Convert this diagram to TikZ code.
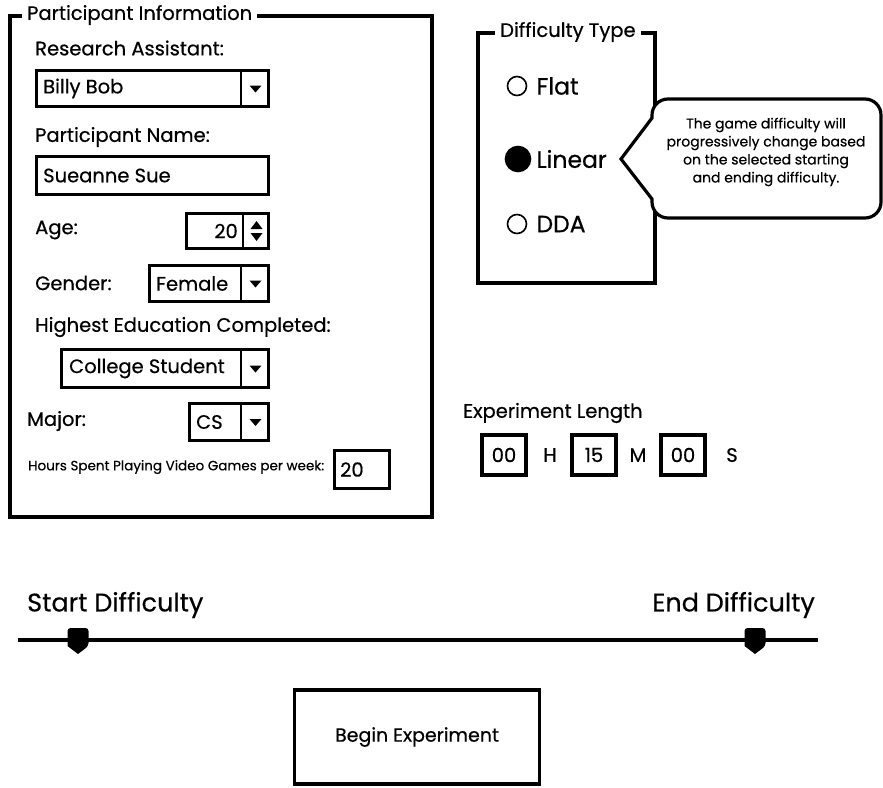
\documentclass[tikz,border=0pt]{standalone}
\usepackage{fontspec}
\setmainfont{Poppins}[FakeBold=0.5]
\usepackage{tikz}
\usetikzlibrary{positioning}
\tikzstyle{frame} = [draw=black, line width=3.2pt]
\tikzstyle{field} = [
	draw=black,
	line width=3pt,
	anchor=north west,
	inner sep=0pt
]
\tikzstyle{lbl} = [anchor=west, inner sep=0pt, font=\fontsize{19.5}{22}\selectfont]
\tikzstyle{val} = [anchor=west, inner sep=0pt, font=\fontsize{19.5}{22}\selectfont]
\tikzstyle{legend} = [anchor=west, fill=white, inner xsep=5pt, inner ysep=1pt, font=\fontsize{19.5}{22}\selectfont]
\tikzstyle{radio} = [circle, draw=black, line width=1.6pt, minimum size=19pt, inner sep=0pt]
\tikzstyle{choice} = [inner sep=0pt, font=\fontsize{23.5}{26}\selectfont]
\tikzstyle{timebox} = [draw=black, line width=3.2pt, minimum width=44pt, minimum height=40pt, inner sep=0pt, font=\fontsize{19.5}{22}\selectfont]
\tikzstyle{unit} = [inner sep=0pt, font=\fontsize{19.5}{22}\selectfont]
\tikzstyle{big} = [inner sep=0pt, font=\fontsize{25.5}{28}\selectfont]
\tikzstyle{knob} = [fill=black, rounded corners=3pt]

\begin{document}
\begin{tikzpicture}[x=1pt, y=-1pt]
    \useasboundingbox (0,0) rectangle (883,787);
    \draw[frame] (10,16) rectangle (432,517);
    \node[legend] (pinfo) at (22,15) {Participant Information};
    \node[lbl] (ralbl) at (35,48) {Research Assistant:};
    \node[field, minimum width=232pt, minimum height=36pt] (ra) at (35,69) {};
    \node[val] at ([xshift=8pt]ra.west) {Billy Bob};
    \node[lbl] (pnamelbl) at (35,137) {Participant Name:};
    \node[field, minimum width=232pt, minimum height=38pt] (pname) at (35,155) {};
    \node[val] at ([xshift=8pt]pname.west) {Sueanne Sue};
    \node[lbl] (agelbl) at (35,230) {Age:};
    \node[field, minimum width=82pt, minimum height=35pt] (age) at (185,212) {};
    \node[val, anchor=east] at ([xshift=-32pt]age.east) {20};
    \draw[line width=2pt] ([xshift=-27pt]age.north east) -- ([xshift=-27pt]age.south east);
    \fill ([xshift=-13.5pt]age.east) ++(-6,-2) -- ++(12,0) -- ++(-6,-8) -- cycle;
    \fill ([xshift=-13.5pt]age.east) ++(-6,2) -- ++(12,0) -- ++(-6,8) -- cycle;
    \node[lbl] (genderlbl) at (35,283) {Gender:};
    \node[field, minimum width=119pt, minimum height=36pt] (gender) at (148,264) {};
    \node[val] at ([xshift=8pt]gender.west) {Female};
    \node[lbl] (edulbl) at (35,327) {Highest Education Completed:};
    \node[field, minimum width=207pt, minimum height=38pt] (edu) at (60,348) {};
    \node[val] at ([xshift=9pt]edu.west) {College Student};
    \node[lbl] (majorlbl) at (27,421) {Major:};
    \node[field, minimum width=79pt, minimum height=37pt] (major) at (188,402) {};
    \node[val] at ([xshift=8pt]major.west) {CS};
    \node[lbl, font=\fontsize{13.5}{16}\selectfont] (hourslbl) at (28,467) {Hours Spent Playing Video Games per week:};
    \node[field, minimum width=55pt, minimum height=38pt] (hours) at (333,449) {};
    \node[val] at ([xshift=7pt]hours.west) {20};
    \foreach \d in {ra,gender,edu,major} {
      \draw[line width=2pt] ([xshift=-29pt]\d.north east) -- ([xshift=-29pt]\d.south east);
      \fill ([xshift=-14.5pt]\d.east) ++(-6,-3) -- ++(12,0) -- ++(-6,7) -- cycle;
    }

    \draw[frame] (478,33) rectangle (655,283);
    \node[legend] (dtype) at (495,32) {Difficulty Type};
    \node[radio] (rflat) at (517,86) {};
    \node[choice, right=9pt of rflat] (flat) {Flat};
    \node[radio, fill=black, minimum size=25pt] (rlinear) at (518,159) {};
    \node[choice, right=5pt of rlinear] (linear) {Linear};
    \node[radio] (rdda) at (517,224) {};
    \node[choice, right=9pt of rdda] (dda) {DDA};
    \draw[line width=3.2pt, fill=white] (621,159) -- (652,118) [rounded corners=16pt] -- (652,99) -- (881,99)
      -- (881,218) -- (652,218) [sharp corners] -- (652,199) -- cycle;
    \node[align=center, inner sep=0pt, font=\fontsize{14}{18}\selectfont] (note) at (766,152)
      {The game difficulty will\\progressively change based\\on the selected starting\\and ending difficulty.};

    \node[lbl] (explbl) at (463,413) {Experiment Length};
    \node[timebox] (hh) at (504,455) {00};
    \node[unit] (hunit) at (550,455) {H};
    \node[timebox] (mm) at (594,455) {15};
    \node[unit] (munit) at (638,455) {M};
    \node[timebox] (ss) at (683,455) {00};
    \node[unit] (sunit) at (732,455) {S};

    \node[big, anchor=west] (startlbl) at (27,605) {Start Difficulty};
    \node[big, anchor=east] (endlbl) at (815,605) {End Difficulty};
    \coordinate (trackL) at (18,640);
    \coordinate (trackR) at (818,640);
    \draw[line width=4.5pt] (trackL) -- (trackR);
    \foreach \k in {78,755} {
      \fill[knob] (\k-10.5,646) -- (\k-10.5,628) -- (\k+10.5,628) -- (\k+10.5,646) [sharp corners] -- (\k,654) -- cycle;
    }

    \node[draw=black, line width=3.2pt, minimum width=245pt, minimum height=94pt, font=\fontsize{19}{21}\selectfont] (begin) at (417,737) {Begin Experiment};
  \end{tikzpicture}
\end{document}
